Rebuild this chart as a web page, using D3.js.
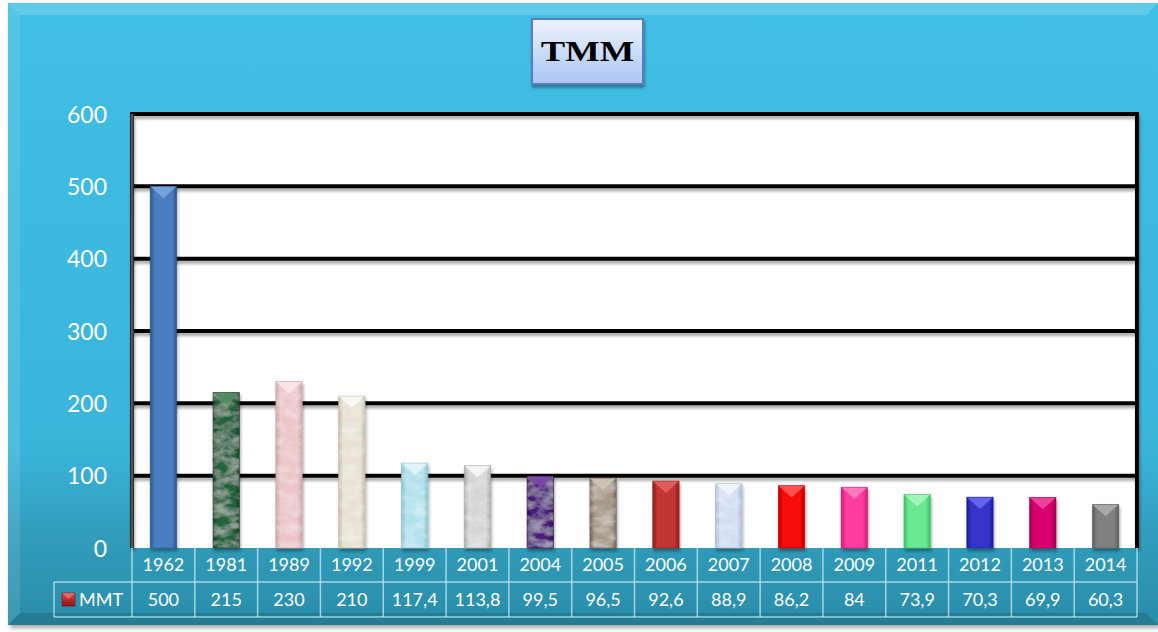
<!DOCTYPE html>
<html>
<head>
<meta charset="utf-8">
<script src="https://cdn.jsdelivr.net/npm/d3@7"></script>
<style>
  html, body { margin: 0; padding: 0; background: #ffffff; }
  svg { display: block; }
</style>
</head>
<body>
<svg id="chart" width="1158" height="632"></svg>
<script>
// Chart data
const years = ["1962","1981","1989","1992","1999","2001","2004","2005","2006","2007","2008","2009","2011","2012","2013","2014"];
const mmt = [500, 215, 230, 210, 117.4, 113.8, 99.5, 96.5, 92.6, 88.9, 86.2, 84, 73.9, 70.3, 69.9, 60.3];
const valueLabels = ["500","215","230","210","117,4","113,8","99,5","96,5","92,6","88,9","86,2","84","73,9","70,3","69,9","60,3"];
const yTicks = [0, 100, 200, 300, 400, 500, 600];
const seriesName = "MMT";
const titleText = "TMM";
// Per-bar fill colours: [base, light, dark]
const barColors = [
  ["#4a7fc2", "#7aa6dc", "#2b5690"],
  ["#24643c", "#4f8c63", "#143f24"],
  ["#ebc5c9", "#fae6e8", "#c9a0a5"],
  ["#e8e2d4", "#faf8f2", "#c4bba8"],
  ["#b4e2ec", "#e2f6fa", "#86c2d0"],
  ["#d4d6d8", "#f6f6f6", "#a6a8aa"],
  ["#4c1b7c", "#7a44aa", "#2e0c52"],
  ["#a89a8a", "#cfc4b6", "#6e6256"],
  ["#c23434", "#e26060", "#8e1e1e"],
  ["#d2ddf2", "#f2f6ff", "#a8b6d2"],
  ["#f80808", "#ff5a5a", "#c00000"],
  ["#ff3c9c", "#ff80c0", "#d01a78"],
  ["#6ae892", "#a6f6c0", "#3cc068"],
  ["#3434cc", "#6868ee", "#1c1c96"],
  ["#d8006e", "#f04aa0", "#a0004e"],
  ["#808080", "#acacac", "#5c5c5c"]
];
// Bars with a stone/marble surface
const texturedBars = [1, 2, 3, 4, 5, 6, 7, 9];

const svg = d3.select("#chart");
const W = 1158, H = 632;
const plot = { left: 132, right: 1137, top: 114, bottom: 548 };
const legendLeft = 54;
const row1Bottom = 582, row2Bottom = 617;

const defs = svg.append("defs");

// Panel background gradient
const bg = defs.append("linearGradient").attr("id", "panelBg").attr("x1", 0).attr("y1", 0).attr("x2", 0).attr("y2", 1);
bg.append("stop").attr("offset", "0").attr("stop-color", "#40bfe5");
bg.append("stop").attr("offset", "0.72").attr("stop-color", "#3ab4da");
bg.append("stop").attr("offset", "0.86").attr("stop-color", "#309cba");
bg.append("stop").attr("offset", "1").attr("stop-color", "#2b8da9");

// Title box gradient
const tg = defs.append("linearGradient").attr("id", "titleBg").attr("x1", 0).attr("y1", 0).attr("x2", 0).attr("y2", 1);
tg.append("stop").attr("offset", "0").attr("stop-color", "#eef4ff");
tg.append("stop").attr("offset", "1").attr("stop-color", "#a9c6f2");

// Soft drop shadow (user-space region so thin lines keep it)
const sh = defs.append("filter").attr("id", "shadow").attr("filterUnits", "userSpaceOnUse")
  .attr("x", 0).attr("y", 0).attr("width", W).attr("height", H);
sh.append("feDropShadow").attr("dx", 1).attr("dy", 3).attr("stdDeviation", 1.6).attr("flood-color", "#000").attr("flood-opacity", 0.35);

const panelSh = defs.append("filter").attr("id", "panelShadow").attr("x", "-5%").attr("y", "-5%").attr("width", "110%").attr("height", "110%");
panelSh.append("feDropShadow").attr("dx", 2).attr("dy", 3).attr("stdDeviation", 2).attr("flood-color", "#000").attr("flood-opacity", 0.35);

// Marble-like texture
const tex = defs.append("filter").attr("id", "marble").attr("x", 0).attr("y", 0).attr("width", "100%").attr("height", "100%");
tex.append("feTurbulence").attr("type", "fractalNoise").attr("baseFrequency", "0.07 0.12").attr("numOctaves", 3).attr("seed", 7).attr("result", "noise");
tex.append("feColorMatrix").attr("in", "noise").attr("type", "matrix")
  .attr("values", "0 0 0 0 1  0 0 0 0 1  0 0 0 0 1  0.7 0 0 0 -0.25").attr("result", "spots");
tex.append("feComposite").attr("in", "spots").attr("in2", "SourceGraphic").attr("operator", "in").attr("result", "clipped");
tex.append("feMerge").selectAll("feMergeNode").data(["SourceGraphic", "clipped"]).join("feMergeNode").attr("in", d => d);

// Panel
svg.append("rect").attr("x", 8).attr("y", 3).attr("width", W - 8).attr("height", 622)
  .attr("fill", "url(#panelBg)").attr("filter", "url(#panelShadow)");
// Bevel highlights on panel edges
svg.append("path").attr("d", `M8,3 L${W},3 L${W - 12},15 L20,15 Z`).attr("fill", "#ffffff").attr("opacity", 0.18);
svg.append("path").attr("d", `M8,3 L20,15 L20,613 L8,625 Z`).attr("fill", "#ffffff").attr("opacity", 0.1);
svg.append("path").attr("d", `M8,625 L20,613 L${W - 12},613 L${W},625 Z`).attr("fill", "#000000").attr("opacity", 0.12);

// Scales
const x = d3.scaleBand().domain(years).range([plot.left, plot.right]).padding(0);
const y = d3.scaleLinear().domain([0, 600]).range([plot.bottom, plot.top]);
const barW = x.bandwidth() * 0.42;

// Plot background
svg.append("rect").attr("x", plot.left).attr("y", plot.top)
  .attr("width", plot.right - plot.left).attr("height", plot.bottom - plot.top)
  .attr("fill", "#ffffff");

// Gridlines
const grid = svg.append("g").attr("class", "grid").attr("filter", "url(#shadow)");
grid.selectAll("line").data(yTicks.filter(t => t > 0 && t < 600)).join("line")
  .attr("x1", plot.left).attr("x2", plot.right)
  .attr("y1", d => y(d)).attr("y2", d => y(d))
  .attr("stroke", "#000").attr("stroke-width", 4);

// Bars
const bars = svg.append("g").attr("class", "bars");
mmt.forEach((v, i) => {
  const [base, light, dark] = barColors[i];
  const gid = "barGrad" + i;
  const g = defs.append("linearGradient").attr("id", gid).attr("x1", 0).attr("y1", 0).attr("x2", 1).attr("y2", 0);
  g.append("stop").attr("offset", "0").attr("stop-color", dark);
  g.append("stop").attr("offset", "0.18").attr("stop-color", base);
  g.append("stop").attr("offset", "0.5").attr("stop-color", base);
  g.append("stop").attr("offset", "0.82").attr("stop-color", base);
  g.append("stop").attr("offset", "1").attr("stop-color", dark);

  const bx = x(years[i]) + (x.bandwidth() - barW) / 2;
  const by = y(v);
  const bh = y(0) - y(v);
  const bg = bars.append("g").attr("filter", "url(#shadow)");
  bg.append("rect").attr("x", bx).attr("y", by).attr("width", barW).attr("height", bh)
    .attr("fill", `url(#${gid})`)
    .attr("filter", texturedBars.includes(i) ? "url(#marble)" : null);
  // Bevelled top cap
  const capH = Math.min(barW * 0.45, bh / 2);
  bg.append("path")
    .attr("d", `M${bx},${by} L${bx + barW},${by} L${bx + barW / 2},${by + capH} Z`)
    .attr("fill", light).attr("opacity", 0.9);
  bg.append("rect").attr("x", bx).attr("y", by).attr("width", barW).attr("height", bh)
    .attr("fill", "none").attr("stroke", dark).attr("stroke-width", 0.8).attr("opacity", 0.7);
});

// Plot frame
svg.append("path")
  .attr("d", `M${plot.left},${plot.bottom} L${plot.left},${plot.top} L${plot.right},${plot.top} L${plot.right},${plot.bottom}`)
  .attr("fill", "none").attr("stroke", "#000").attr("stroke-width", 4)
  .attr("filter", "url(#shadow)");
svg.append("line").attr("x1", plot.left).attr("x2", plot.left).attr("y1", plot.top).attr("y2", plot.bottom)
  .attr("stroke", "#555").attr("stroke-width", 3);

// Y axis labels
const yAxis = d3.axisLeft(y).tickValues(yTicks).tickSize(0).tickPadding(25);
const yg = svg.append("g").attr("transform", `translate(${plot.left},0)`).call(yAxis);
yg.select(".domain").remove();
yg.selectAll("text").attr("fill", "#ffffff").attr("font-family", "Lato, 'Open Sans', sans-serif")
  .attr("font-size", 23).attr("dy", "0.35em");

// Data table
const tbl = svg.append("g").attr("class", "table");
const lineCol = "rgba(200,235,245,0.75)";
// Row separators
tbl.append("line").attr("x1", legendLeft).attr("x2", plot.right).attr("y1", row1Bottom).attr("y2", row1Bottom)
  .attr("stroke", lineCol).attr("stroke-width", 1.5);
tbl.append("line").attr("x1", legendLeft).attr("x2", plot.right).attr("y1", row2Bottom).attr("y2", row2Bottom)
  .attr("stroke", lineCol).attr("stroke-width", 1.5);
tbl.append("line").attr("x1", legendLeft).attr("x2", legendLeft).attr("y1", row1Bottom).attr("y2", row2Bottom)
  .attr("stroke", lineCol).attr("stroke-width", 1.5);
// Column separators
const colEdges = years.map(d => x(d)).concat([plot.right]);
tbl.selectAll("line.col").data(colEdges).join("line").attr("class", "col")
  .attr("x1", d => d).attr("x2", d => d).attr("y1", plot.bottom).attr("y2", row2Bottom)
  .attr("stroke", lineCol).attr("stroke-width", 1.5);

const tableFont = "Lato, 'Open Sans', sans-serif";
tbl.selectAll("text.year").data(years).join("text").attr("class", "year")
  .attr("x", d => x(d) + x.bandwidth() / 2).attr("y", 571)
  .attr("text-anchor", "middle").attr("fill", "#ffffff")
  .attr("font-family", tableFont).attr("font-size", 18).text(d => d);
tbl.selectAll("text.val").data(valueLabels).join("text").attr("class", "val")
  .attr("x", (d, i) => x(years[i]) + x.bandwidth() / 2).attr("y", 606)
  .attr("text-anchor", "middle").attr("fill", "#ffffff")
  .attr("font-family", tableFont).attr("font-size", 18).text(d => d);

// Legend key
const kg = defs.append("linearGradient").attr("id", "keyGrad").attr("x1", 0).attr("y1", 0).attr("x2", 0).attr("y2", 1);
kg.append("stop").attr("offset", "0").attr("stop-color", "#e04848");
kg.append("stop").attr("offset", "1").attr("stop-color", "#8c1414");
tbl.append("rect").attr("x", 62).attr("y", 593).attr("width", 13).attr("height", 13).attr("fill", "url(#keyGrad)")
  .attr("stroke", "#701010").attr("stroke-width", 0.6);
tbl.append("path").attr("d", "M62,593 L75,593 L68.5,599 Z").attr("fill", "#f07070").attr("opacity", 0.8);
tbl.append("text").attr("x", 79).attr("y", 606).attr("fill", "#ffffff")
  .attr("font-family", tableFont).attr("font-size", 18).text(seriesName);

// Title box
svg.append("rect").attr("x", 532).attr("y", 19).attr("width", 111).attr("height", 65)
  .attr("fill", "url(#titleBg)").attr("stroke", "#5b7cc0").attr("stroke-width", 2)
  .attr("filter", "url(#shadow)");
svg.append("text").attr("transform", "translate(587.5,61) scale(1.22,1)").attr("text-anchor", "middle")
  .attr("font-family", "'Liberation Serif', 'DejaVu Serif', serif").attr("font-weight", "bold")
  .attr("font-size", 30).attr("fill", "#000").text(titleText);
</script>
</body>
</html>
